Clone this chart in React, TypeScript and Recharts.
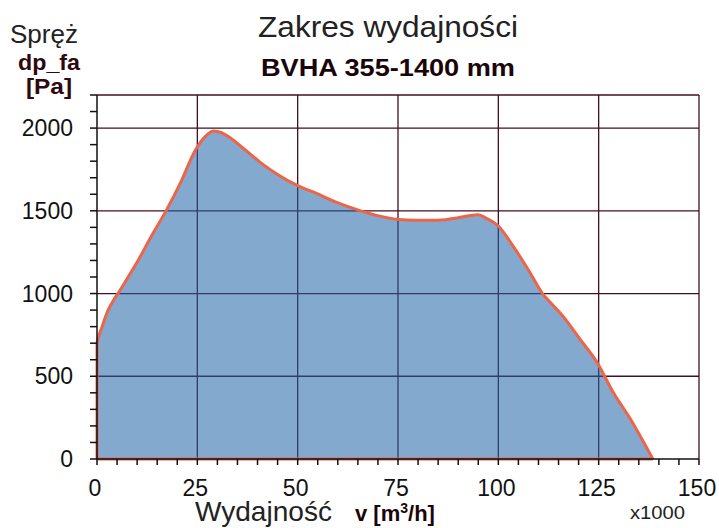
import React from "react";
import { AreaChart, Area, XAxis, YAxis, CartesianGrid, ReferenceLine } from "recharts";

// Volume flow (x1000 m3/h) and static pressure dp_fa (Pa) of the performance envelope
const flow = [0, 0.5, 1.25, 2, 2.8, 4, 5.3, 7.5, 10.3, 13.5, 17.3, 21, 24.5, 27, 29.1, 31, 33, 37, 41, 45, 50, 54.4, 59.4, 64.4, 69.4, 75.2, 79.3, 85, 90, 93, 95, 97, 100, 103.6, 107.8, 111, 112.8, 116, 120.3, 124.8, 128.5, 132.8, 138.5];
const pressure = [700, 748, 798, 852, 901, 955, 1003, 1090, 1203, 1345, 1504, 1680, 1866, 1950, 1982, 1972, 1945, 1866, 1787, 1720, 1652, 1608, 1554, 1510, 1474, 1448, 1443, 1443, 1458, 1472, 1476, 1455, 1408, 1290, 1130, 1000, 950, 866, 726, 576, 408, 246, 0];

const xTicks = [0, 5, 10, 15, 20, 25, 30, 35, 40, 45, 50, 55, 60, 65, 70, 75, 80, 85, 90, 95, 100, 105, 110, 115, 120, 125, 130, 135, 140, 145, 150];
const xLabelTicks = [0, 25, 50, 75, 100, 125, 150];
const yTicks = [0, 100, 200, 300, 400, 500, 600, 700, 800, 900, 1000, 1100, 1200, 1300, 1400, 1500, 1600, 1700, 1800, 1900, 2000, 2100, 2200];
const yLabelTicks = [0, 500, 1000, 1500, 2000];
const xGrid = [25, 50, 75, 100, 125, 150];
const yGrid = [500, 1000, 1500, 2000, 2200];

const data = flow.map((q, i) => ({ q, p: pressure[i] }));

const FONT = "'Liberation Sans', Arial, sans-serif";
const EDGE = "#ec6548";

const XTick = (props: any) => {
  const { x, y, payload } = props;
  const v = payload.value;
  return (
    <g>
      <line x1={x} x2={x} y1={y} y2={y + 6} stroke="#111" strokeWidth={1.5} />
      {xLabelTicks.includes(v) && (
        <text x={x - 2} y={y + 29} dy="0.35em" textAnchor="middle" fontSize={23} fontFamily={FONT} fill="#111">
          {v}
        </text>
      )}
    </g>
  );
};

const YTick = (props: any) => {
  const { x, y, payload } = props;
  const v = payload.value;
  return (
    <g>
      <line x1={x - 7} x2={x} y1={y} y2={y} stroke="#111" strokeWidth={1.5} />
      {yLabelTicks.includes(v) && (
        <text x={x - 24} y={y} dy="0.35em" textAnchor="end" fontSize={23} fontFamily={FONT} fill="#111">
          {v}
        </text>
      )}
    </g>
  );
};

export default function App() {
  return (
    <div style={{ position: "absolute", left: 0, top: 0, width: 719, height: 528, background: "#fff" }}>
      <AreaChart width={719} height={528} data={data} margin={{ top: 95, right: 20, left: 0, bottom: 0 }}>
        <CartesianGrid
          horizontalValues={yGrid}
          verticalValues={xGrid}
          stroke="#40101f"
          strokeWidth={1.3}
        />
        <XAxis
          dataKey="q"
          type="number"
          domain={[0, 150]}
          ticks={xTicks}
          interval={0}
          height={69}
          tickSize={0}
          tickMargin={0}
          tickLine={false}
          axisLine={{ stroke: "#111", strokeWidth: 1.5 }}
          tick={<XTick />}
        />
        <YAxis
          type="number"
          domain={[0, 2200]}
          ticks={yTicks}
          interval={0}
          width={97}
          tickSize={0}
          tickMargin={0}
          tickLine={false}
          axisLine={{ stroke: "#111", strokeWidth: 1.5 }}
          tick={<YTick />}
        />
        <Area
          type="monotone"
          dataKey="p"
          stroke={EDGE}
          strokeWidth={3}
          fill="#1f63a8"
          fillOpacity={0.55}
          isAnimationActive={false}
          dot={false}
          activeDot={false}
        />
        <ReferenceLine
          segment={[{ x: 0, y: 0 }, { x: 0, y: pressure[0] }]}
          stroke={EDGE}
          strokeWidth={3}
        />
        <ReferenceLine
          segment={[{ x: 0, y: 0 }, { x: flow[flow.length - 1], y: 0 }]}
          stroke={EDGE}
          strokeWidth={3}
        />
      </AreaChart>
      <svg width={719} height={528} style={{ position: "absolute", left: 0, top: 0, pointerEvents: "none" }}>
        <text x={10} y={43} fontSize={25.5} fontFamily={FONT} fill="#222" textLength={68} lengthAdjust="spacingAndGlyphs">Spręż</text>
        <text x={18} y={70} fontSize={22.5} fontWeight="bold" fontFamily={FONT} fill="#2e0810" textLength={62} lengthAdjust="spacingAndGlyphs">dp_fa</text>
        <text x={26} y={94} fontSize={22} fontWeight="bold" fontFamily={FONT} fill="#2e0810" textLength={46} lengthAdjust="spacingAndGlyphs">[Pa]</text>
        <text x={258} y={36.5} fontSize={30} fontFamily={FONT} fill="#222" textLength={260} lengthAdjust="spacingAndGlyphs">Zakres wydajności</text>
        <text x={261} y={76} fontSize={23.5} fontWeight="bold" fontFamily={FONT} fill="#1a0608" textLength={254} lengthAdjust="spacingAndGlyphs">BVHA 355-1400 mm</text>
        <text x={195} y={521} fontSize={28} fontFamily={FONT} fill="#222" textLength={137} lengthAdjust="spacingAndGlyphs">Wydajność</text>
        <text x={355} y={521} fontSize={22} fontWeight="bold" fontFamily={FONT} fill="#1a0608">
          v [m<tspan dy={-8} fontSize={14}>3</tspan><tspan dy={8}>/h]</tspan>
        </text>
        <text x={630} y={519} fontSize={19} fontFamily={FONT} fill="#222" textLength={55} lengthAdjust="spacingAndGlyphs">x1000</text>
      </svg>
    </div>
  );
}
